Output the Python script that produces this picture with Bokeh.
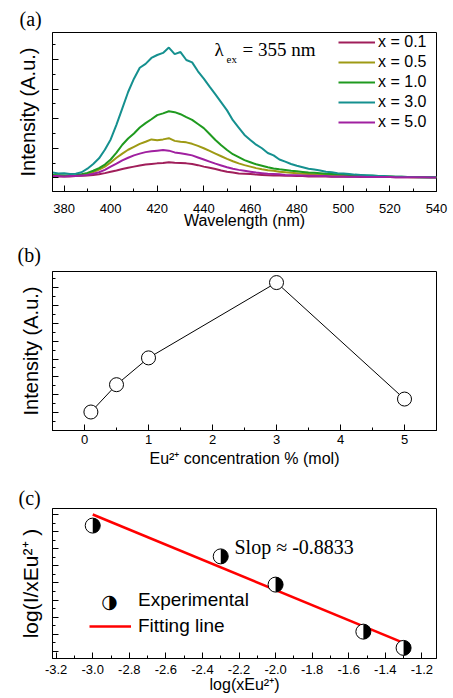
import math
from bokeh.plotting import figure
from bokeh.layouts import column
from bokeh.models import (FixedTicker, Legend, LegendItem, Label, Range1d,
                          CustomJSTickFormatter, PrintfTickFormatter)
from bokeh.embed import file_html
from bokeh.resources import INLINE

# ---------------- data: panel (a) emission spectra ----------------
wavelength = [375, 377.5, 380, 382.5, 385, 387.5, 390, 392.5, 395, 397.5,
              400, 402.5, 405, 407.5, 410, 412.5, 415, 417.5, 420, 422.5,
              425, 427.5, 430, 432.5, 435, 437.5, 440, 442.5, 445, 447.5,
              450, 452.5, 455, 457.5, 460, 462.5, 465, 467.5, 470, 472.5,
              475, 477.5, 480, 482.5, 485, 487.5, 490, 492.5, 495, 497.5,
              500, 502.5, 505, 507.5, 510, 512.5, 515, 517.5, 520, 522.5,
              525, 527.5, 530, 532.5, 535, 537.5, 540]

int_x01 = [0.05, 0.05, 0.05, 0.05, 0.06, 0.07, 0.08, 0.10, 0.12, 0.16,
           0.21, 0.25, 0.30, 0.34, 0.38, 0.42, 0.45, 0.47, 0.49, 0.50,
           0.53, 0.51, 0.50, 0.49, 0.47, 0.43, 0.38, 0.34, 0.30, 0.25,
           0.21, 0.18, 0.15, 0.14, 0.13, 0.11, 0.10, 0.09, 0.08, 0.08,
           0.07, 0.07, 0.06, 0.06, 0.05, 0.05, 0.05, 0.05, 0.04, 0.04,
           0.04, 0.04, 0.04, 0.03, 0.03, 0.03, 0.03, 0.03, 0.03, 0.02,
           0.02, 0.02, 0.02, 0.02, 0.02, 0.02, 0.02]

int_x05 = [0.08, 0.08, 0.07, 0.07, 0.08, 0.10, 0.14, 0.20, 0.28, 0.38,
           0.52, 0.68, 0.82, 0.95, 1.05, 1.15, 1.22, 1.30, 1.27, 1.30,
           1.34, 1.25, 1.22, 1.20, 1.15, 1.08, 1.00, 0.91, 0.82, 0.73,
           0.64, 0.56, 0.49, 0.43, 0.38, 0.33, 0.29, 0.26, 0.24, 0.21,
           0.19, 0.17, 0.16, 0.14, 0.13, 0.12, 0.11, 0.10, 0.09, 0.08,
           0.08, 0.07, 0.06, 0.06, 0.05, 0.05, 0.04, 0.04, 0.04, 0.03,
           0.03, 0.03, 0.02, 0.02, 0.02, 0.02, 0.02]

int_x10 = [0.10, 0.09, 0.08, 0.08, 0.09, 0.12, 0.17, 0.24, 0.33, 0.45,
           0.62, 0.85, 1.12, 1.33, 1.50, 1.70, 1.85, 1.98, 2.12, 2.18,
           2.25, 2.22, 2.15, 2.05, 1.96, 1.82, 1.68, 1.48, 1.28, 1.10,
           0.94, 0.80, 0.70, 0.60, 0.53, 0.46, 0.41, 0.36, 0.32, 0.29,
           0.27, 0.24, 0.22, 0.20, 0.18, 0.17, 0.16, 0.14, 0.13, 0.12,
           0.11, 0.10, 0.09, 0.08, 0.07, 0.07, 0.06, 0.05, 0.05, 0.04,
           0.04, 0.03, 0.03, 0.03, 0.02, 0.02, 0.02]

int_x30 = [0.18, 0.15, 0.16, 0.13, 0.14, 0.19, 0.31, 0.47, 0.66, 0.95,
           1.30, 1.80, 2.35, 2.90, 3.35, 3.72, 3.85, 4.05, 4.15, 4.22,
           4.40, 4.18, 4.25, 3.98, 3.90, 3.60, 3.35, 3.08, 2.82, 2.55,
           2.28, 1.95, 1.70, 1.45, 1.28, 1.12, 1.00, 0.84, 0.76, 0.62,
           0.55, 0.47, 0.41, 0.36, 0.31, 0.28, 0.25, 0.21, 0.19, 0.16,
           0.15, 0.13, 0.11, 0.10, 0.09, 0.08, 0.06, 0.06, 0.05, 0.04,
           0.04, 0.03, 0.03, 0.02, 0.02, 0.02, 0.02]

int_x50 = [0.06, 0.06, 0.05, 0.06, 0.06, 0.08, 0.10, 0.14, 0.19, 0.27,
           0.38, 0.48, 0.59, 0.68, 0.76, 0.82, 0.87, 0.90, 0.92, 0.94,
           0.92, 0.86, 0.83, 0.80, 0.76, 0.69, 0.62, 0.55, 0.48, 0.42,
           0.36, 0.31, 0.27, 0.24, 0.21, 0.18, 0.16, 0.14, 0.13, 0.12,
           0.10, 0.09, 0.09, 0.08, 0.07, 0.07, 0.06, 0.06, 0.05, 0.05,
           0.05, 0.04, 0.04, 0.04, 0.03, 0.03, 0.03, 0.03, 0.03, 0.02,
           0.02, 0.02, 0.02, 0.02, 0.02, 0.01, 0.01]

series_labels = ["x = 0.1", "x = 0.5", "x = 1.0", "x = 3.0", "x = 5.0"]
series_colors = ["#A01E5A", "#9E9A14", "#1F9A1F", "#15908F", "#A020A0"]
series_values = [int_x01, int_x05, int_x10, int_x30, int_x50]

# ---------------- data: panel (b) ----------------
conc = [0.1, 0.5, 1.0, 3.0, 5.0]
peak_intensity = [2.07, 5.13, 8.13, 16.56, 3.52]

# ---------------- data: panel (c) ----------------
log_x = [-3.0, -2.30, -2.0, -1.52, -1.30]
log_ix = [3.87, 3.51, 3.18, 2.63, 2.44]
fit_x = [-3.0, -1.3]
fit_y = [4.0, 2.498]

SANS = "Liberation Sans"
SERIF = "Liberation Serif"


def style(p, tag, offset, standoff):
    p.outline_line_color = "black"
    p.outline_line_width = 1
    p.outline_line_alpha = 1
    p.xgrid.visible = False
    p.ygrid.visible = False
    p.background_fill_color = "white"
    p.border_fill_color = "white"
    for ax in p.axis:
        ax.major_tick_in = 6
        ax.major_tick_out = 0
        ax.minor_tick_in = 3
        ax.minor_tick_out = 0
        ax.axis_line_color = "black"
        ax.major_tick_line_color = "black"
        ax.minor_tick_line_color = "black"
        ax.major_label_text_font = SANS
        ax.major_label_text_font_size = "13px"
        ax.major_label_text_color = "black"
        ax.axis_label_text_font = SANS
        ax.axis_label_text_font_style = "normal"
        ax.axis_label_text_color = "black"
    p.yaxis.formatter = CustomJSTickFormatter(code="return ''")
    p.yaxis.major_label_standoff = 0
    p.yaxis.axis_label_text_font_size = "20px"
    p.title.text = tag
    p.title.align = "left"
    p.title.offset = offset
    p.title.text_font = SERIF
    p.title.text_font_size = "20px"
    p.title.text_font_style = "normal"
    p.title.text_color = "black"
    p.title.standoff = standoff


# ================= panel (a) =================
pa = figure(width=453, height=235, x_range=Range1d(375, 540), y_range=Range1d(-0.46, 4.91),
            output_backend="svg", toolbar_location=None,
            min_border_left=50, min_border_right=16, min_border_top=32, min_border_bottom=44)
items = []
for lab, col, vals in zip(series_labels, series_colors, series_values):
    r = pa.line(wavelength, vals, line_color=col, line_width=2)
    items.append(LegendItem(label=lab, renderers=[r]))
style(pa, "(a)", -33, 6)
pa.xaxis.ticker = FixedTicker(ticks=[380, 400, 420, 440, 460, 480, 500, 520, 540],
                              minor_ticks=[390, 410, 430, 450, 470, 490, 510, 530])
pa.yaxis.ticker = FixedTicker(ticks=[0, 1, 2, 3, 4], minor_ticks=[-0.5, 0.5, 1.5, 2.5, 3.5, 4.5])
pa.xaxis.axis_label = "Wavelength (nm)"
pa.xaxis.axis_label_text_font_size = "16px"
pa.xaxis.major_label_standoff = 12
pa.xaxis.axis_label_standoff = -4
pa.yaxis.axis_label = "Intensity (A.u.)"
pa.yaxis.axis_label_standoff = 14
leg_a = Legend(items=items, location=(286, 59), glyph_width=37, glyph_height=20,
               label_height=20, label_standoff=3, spacing=0, padding=0, margin=0,
               border_line_alpha=0, background_fill_alpha=0,
               label_text_font=SANS, label_text_font_size="16px", label_text_color="black")
pa.add_layout(leg_a)
pa.add_layout(Label(x=162, y=131.5, x_units="screen", y_units="screen", text="λ",
                    text_font=SERIF, text_font_size="19px", text_color="black"))
pa.add_layout(Label(x=174, y=127, x_units="screen", y_units="screen", text="ex",
                    text_font=SERIF, text_font_size="11px", text_color="black"))
pa.add_layout(Label(x=190, y=131.5, x_units="screen", y_units="screen", text="= 355 nm",
                    text_font=SERIF, text_font_size="19px", text_color="black"))

# ================= panel (b) =================
pb = figure(width=453, height=245, x_range=Range1d(-0.5, 5.5), y_range=Range1d(0, 17.8),
            output_backend="svg", toolbar_location=None,
            min_border_left=52, min_border_right=17, min_border_top=32, min_border_bottom=50)
pb.line(conc, peak_intensity, line_color="black", line_width=1)
pb.scatter(conc, peak_intensity, marker="circle", size=14, fill_color="white",
           line_color="black", line_width=1)
style(pb, "(b)", -35, 12)
pb.xaxis.ticker = FixedTicker(ticks=[0, 1, 2, 3, 4, 5], minor_ticks=[-0.5, 0.5, 1.5, 2.5, 3.5, 4.5, 5.5])
pb.yaxis.ticker = FixedTicker(ticks=list(range(0, 18, 2)), minor_ticks=list(range(0, 18)))
pb.xaxis.axis_label = "Eu²⁺ concentration % (mol)"
pb.xaxis.axis_label_text_font_size = "16px"
pb.xaxis.major_label_standoff = 4
pb.xaxis.axis_label_standoff = 3
pb.yaxis.axis_label = "Intensity (A.u.)"
pb.yaxis.axis_label_standoff = 11

# ================= panel (c) =================
pc = figure(width=453, height=217, x_range=Range1d(-3.22, -1.12), y_range=Range1d(2.316, 4.07),
            output_backend="svg", toolbar_location=None,
            min_border_left=51, min_border_right=16, min_border_top=28, min_border_bottom=39)
fit_r = pc.line(fit_x, fit_y, line_color="#FF0000", line_width=2.5)
pc.scatter(log_x, log_ix, marker="circle", size=15, fill_color="white", line_color="black", line_width=1)
pc.wedge(log_x, log_ix, radius=7.5, radius_units="screen", start_angle=-math.pi / 2,
         end_angle=math.pi / 2, fill_color="black", line_color=None)
dummy = pc.scatter(x=[], y=[], size=0, fill_alpha=0, line_alpha=0)
style(pc, "(c)", -34, 0)
pc.xaxis.ticker = FixedTicker(ticks=[-3.2, -3.0, -2.8, -2.6, -2.4, -2.2, -2.0, -1.8, -1.6, -1.4, -1.2],
                              minor_ticks=[-3.1, -2.9, -2.7, -2.5, -2.3, -2.1, -1.9, -1.7, -1.5, -1.3])
pc.xaxis.formatter = PrintfTickFormatter(format="%.1f")
pc.yaxis.ticker = FixedTicker(ticks=[2.4, 2.6, 2.8, 3.0, 3.2, 3.4, 3.6, 3.8, 4.0],
                              minor_ticks=[2.5, 2.7, 2.9, 3.1, 3.3, 3.5, 3.7, 3.9])
pc.xaxis.axis_label = "log(xEu²⁺)"
pc.xaxis.axis_label_text_font_size = "16px"
pc.xaxis.major_label_standoff = 6
pc.xaxis.axis_label_standoff = -1
pc.yaxis.axis_label = "log(I/xEu²⁺ )"
pc.yaxis.axis_label_text_font_size = "21px"
pc.yaxis.axis_label_standoff = 11
leg_c = Legend(items=[LegendItem(label="Experimental", renderers=[dummy]),
                      LegendItem(label="Fitting line", renderers=[fit_r])],
               location=(37, 19), glyph_width=42, glyph_height=26, label_height=26,
               label_standoff=7, spacing=0, padding=0, margin=0,
               border_line_alpha=0, background_fill_alpha=0,
               label_text_font=SANS, label_text_font_size="19px", label_text_color="black")
pc.add_layout(leg_c)
pc.add_layout(Label(x=57, y=58, x_units="screen", y_units="screen", text="◑",
                    text_font="DejaVu Sans", text_font_size="19px", text_color="black",
                    text_align="center", text_baseline="middle"))
pc.add_layout(Label(x=182, y=112, x_units="screen", y_units="screen", text="Slop ≈ -0.8833",
                    text_font=SERIF, text_font_size="20px", text_color="black",
                    text_baseline="middle"))

layout = column(pa, pb, pc, spacing=0)
open("out.html", "w").write(file_html(layout, INLINE))
